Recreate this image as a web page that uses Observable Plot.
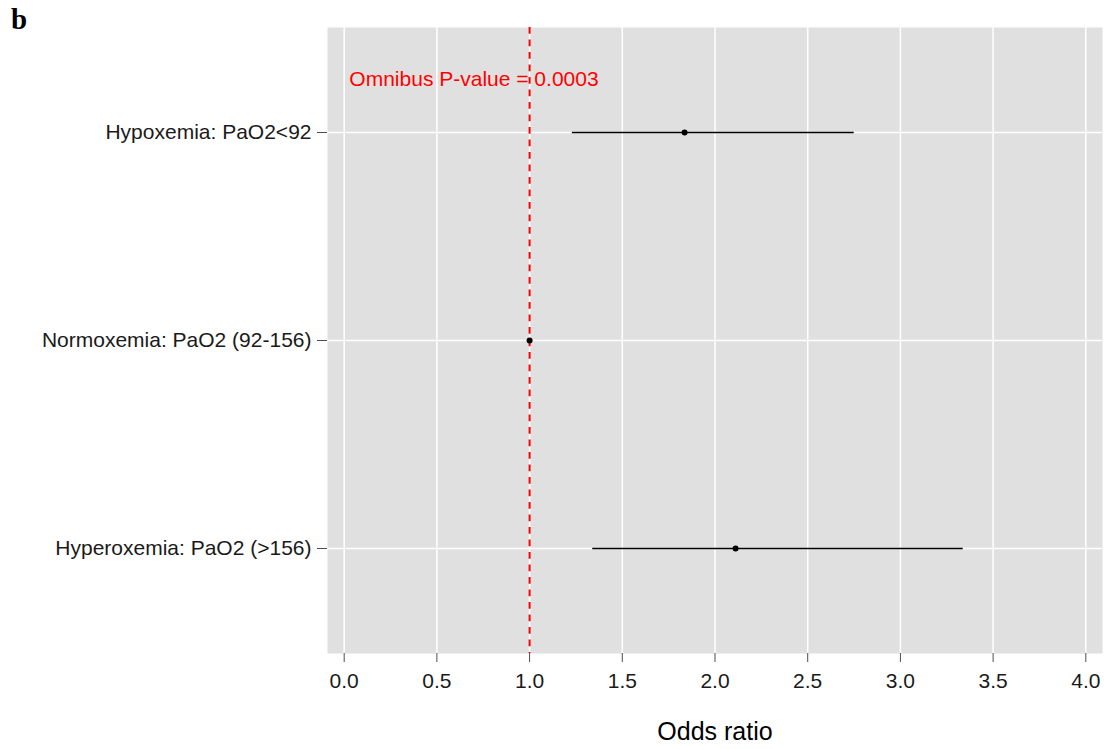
<!DOCTYPE html>
<html><head><meta charset="utf-8">
<script src="https://cdn.jsdelivr.net/npm/d3@7"></script>
<script src="https://cdn.jsdelivr.net/npm/@observablehq/plot@0.6"></script>
<style>
body{margin:0;background:#fff}
#wrap{position:relative;width:1113px;height:749px}
#tag{position:absolute;left:11px;top:3px;font:bold 29px "Liberation Serif","DejaVu Serif",serif;color:#000}
</style>
</head><body><div id="wrap"><div id="tag">b</div></div>
<script>
const categories = ["Hypoxemia: PaO2<92", "Normoxemia: PaO2 (92-156)", "Hyperoxemia: PaO2 (>156)"];
const oddsRatio = [1.836, 1.0, 2.111];
const lowerCI = [1.228, 1.0, 1.338];
const upperCI = [2.748, 1.0, 3.336];
const xTicks = [0, 0.5, 1, 1.5, 2, 2.5, 3, 3.5, 4];
const referenceLine = [1];
const annotationText = "Omnibus P-value = 0.0003";
const annotationX = 0.70;

const data = categories.map((c, i) => ({cat: c, or: oddsRatio[i], lo: lowerCI[i], hi: upperCI[i]}));
const annotation = [{label: annotationText, x: annotationX, cat: categories[0]}];

const chart = Plot.plot({
  width: 1113,
  height: 749,
  marginLeft: 327,
  marginRight: 11,
  marginTop: 27,
  marginBottom: 96,
  style: {fontFamily: "'Liberation Sans', Arial, sans-serif", fontSize: "21px", background: "white", color: "#1a1a1a"},
  x: {domain: [-0.09, 4.09]},
  y: {domain: categories, padding: 0.5},
  marks: [
    Plot.frame({fill: "#e0e0e0", stroke: null}),
    Plot.gridX(xTicks, {stroke: "white", strokeOpacity: 1, strokeWidth: 1.5}),
    Plot.gridY(categories, {stroke: "white", strokeOpacity: 1, strokeWidth: 1.5}),
    Plot.axisX(xTicks, {tickFormat: d3.format(".1f"), tickSize: 9, tickPadding: 11, stroke: "#4d4d4d", fill: "#1a1a1a", fontSize: 21, label: null}),
    Plot.axisX({ticks: [], tickSize: 0, label: "Odds ratio", labelAnchor: "center", labelArrow: "none", labelOffset: 86, fontSize: 25, fill: "#000"}),
    Plot.axisY(categories, {tickSize: 10, tickPadding: 6, stroke: "#4d4d4d", fill: "#1a1a1a", fontSize: 21, label: null}),
    Plot.ruleX(referenceLine, {stroke: "#ff0000", strokeWidth: 2, strokeDasharray: "6.7,5.8"}),
    Plot.link(data, {x1: "lo", x2: "hi", y1: "cat", y2: "cat", stroke: "black", strokeWidth: 1.6}),
    Plot.dot(data, {x: "or", y: "cat", r: 3, fill: "black", stroke: null}),
    Plot.text(annotation, {x: "x", y: "cat", text: "label", dy: -53, fill: "#ff0000", fontSize: 21})
  ]
});
document.getElementById("wrap").prepend(chart);
</script>
</body></html>
